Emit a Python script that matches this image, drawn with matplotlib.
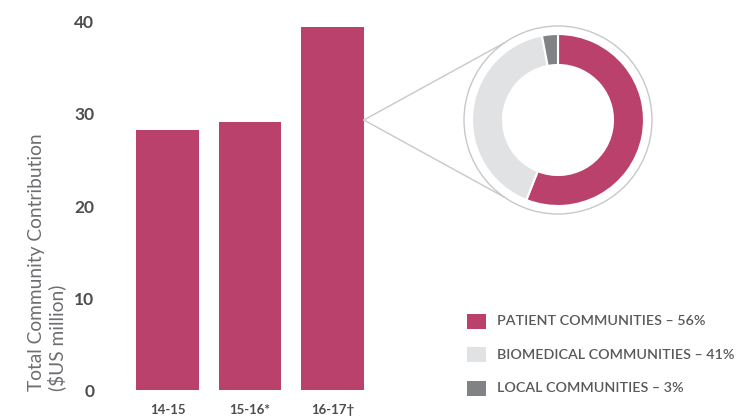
import numpy as np
import matplotlib
matplotlib.use("Agg")
import matplotlib.pyplot as plt
from matplotlib.patches import Circle, Rectangle
from matplotlib.lines import Line2D

# bar data
years = ["14-15", "15-16*", "16-17\u2020"]
totals = [28.3, 29.1, 39.5]

# donut breakdown for 16-17
segments = ["PATIENT COMMUNITIES \u2013 56%",
            "BIOMEDICAL COMMUNITIES \u2013 41%",
            "LOCAL COMMUNITIES \u2013 3%"]
shares = [56, 41, 3]

PINK = "#B9416C"
LIGHT = "#E1E2E4"
GREY = "#808285"
TEXT = "#4D4D4F"
seg_colors = [PINK, LIGHT, GREY]

plt.rcParams["font.family"] = ["Lato", "DejaVu Sans"]

W, H = 738, 419
fig = plt.figure(figsize=(W / 100, H / 100), dpi=100)


def px(x0, y0, x1, y1):
    # pixel box (top-left origin) -> figure fraction rect
    return [x0 / W, 1 - y1 / H, (x1 - x0) / W, (y1 - y0) / H]


# bars
ax = fig.add_axes(px(118, 22, 382, 390))
ax.bar(range(len(years)), totals, width=0.76, color=PINK)
ax.set_xlim(-0.6, 2.6)
ax.set_ylim(0, 40)
ax.set_yticks([0, 10, 20, 30, 40])
ax.set_xticks(range(len(years)))
ax.set_xticklabels(years)
for s in ax.spines.values():
    s.set_visible(False)
ax.tick_params(axis="y", length=0, pad=17, labelsize=12.5, labelcolor=TEXT)
ax.tick_params(axis="x", length=0, pad=10, labelsize=9.5, labelcolor=TEXT)
for lab in ax.get_yticklabels() + ax.get_xticklabels():
    lab.set_fontweight("bold")

fig.text(47 / W, 1 - 391 / H, "Total Community Contribution\n($US million)",
         rotation=90, ha="center", va="bottom", multialignment="left",
         fontsize=13.8, fontweight="normal", color="#6D6E71", linespacing=1.15)

# overlay axes in pixel units for donut, connector lines and legend
ov = fig.add_axes([0, 0, 1, 1])
cx, cy = 558, H - 120
ov.pie(shares, colors=seg_colors, startangle=90, counterclock=False,
       radius=86, center=(cx, cy),
       wedgeprops=dict(width=31, edgecolor="white", linewidth=1.5))
ov.add_patch(Circle((cx, cy), 94, fill=False, edgecolor="#C8C8CA", lw=1.0))
ov.set_xlim(0, W)
ov.set_ylim(0, H)
ov.set_aspect("auto")
ov.axis("off")

# connector from the 16-17 bar to the donut
bar = ax.patches[2]
bx = ax.transData.transform((bar.get_x() + bar.get_width(), 0))[0]
bx = ov.transData.inverted().transform((bx, 0))[0]
for ang in (125, 235):
    ex = cx + 94 * np.cos(np.radians(ang))
    ey = cy + 94 * np.sin(np.radians(ang))
    ov.add_line(Line2D([bx, ex], [cy, ey], color="#C8C8CA", lw=1.0))

# legend
for i, (lab, col) in enumerate(zip(segments, seg_colors)):
    yc = H - (321 + i * 33.5)
    ov.add_patch(Rectangle((467, yc - 7.5), 19, 15, color=col, lw=0))
    ov.text(497, yc, lab, ha="left", va="center", fontsize=10.3,
            fontweight="semibold", color="#58595B")

fig.savefig("out.png", dpi=100)
